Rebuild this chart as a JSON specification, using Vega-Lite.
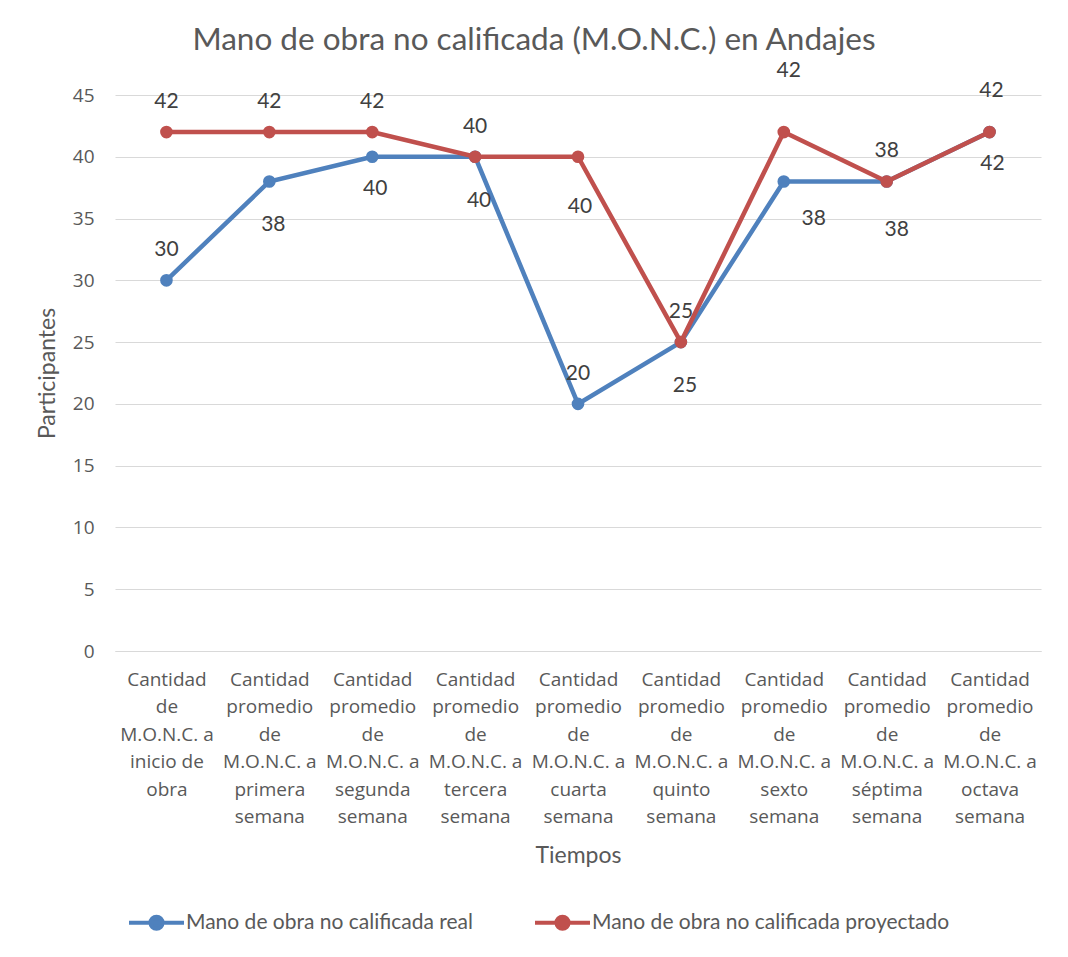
{
  "$schema": "https://vega.github.io/schema/vega-lite/v6.json",
  "width": 926,
  "height": 556,
  "autosize": {"type": "none"},
  "padding": {"left": 115, "top": 95, "right": 27, "bottom": 306},
  "background": "white",
  "title": {
    "text": "Mano de obra no calificada (M.O.N.C.) en Andajes",
    "anchor": "middle",
    "frame": "group",
    "dx": -44,
    "offset": 4,
    "font": "Lato",
    "fontSize": 31.5,
    "fontWeight": "normal",
    "color": "#595959"
  },
  "data": {
    "values": [
      {"orden": 1, "tiempo": "Cantidad|de|M.O.N.C. a|inicio de|obra", "serie": "Mano de obra no calificada real", "valor": 30},
      {"orden": 2, "tiempo": "Cantidad|promedio|de|M.O.N.C. a|primera|semana", "serie": "Mano de obra no calificada real", "valor": 38},
      {"orden": 3, "tiempo": "Cantidad|promedio|de|M.O.N.C. a|segunda|semana", "serie": "Mano de obra no calificada real", "valor": 40},
      {"orden": 4, "tiempo": "Cantidad|promedio|de|M.O.N.C. a|tercera|semana", "serie": "Mano de obra no calificada real", "valor": 40},
      {"orden": 5, "tiempo": "Cantidad|promedio|de|M.O.N.C. a|cuarta|semana", "serie": "Mano de obra no calificada real", "valor": 20},
      {"orden": 6, "tiempo": "Cantidad|promedio|de|M.O.N.C. a|quinto|semana", "serie": "Mano de obra no calificada real", "valor": 25},
      {"orden": 7, "tiempo": "Cantidad|promedio|de|M.O.N.C. a|sexto|semana", "serie": "Mano de obra no calificada real", "valor": 38},
      {"orden": 8, "tiempo": "Cantidad|promedio|de|M.O.N.C. a|séptima|semana", "serie": "Mano de obra no calificada real", "valor": 38},
      {"orden": 9, "tiempo": "Cantidad|promedio|de|M.O.N.C. a|octava|semana", "serie": "Mano de obra no calificada real", "valor": 42},
      {"orden": 1, "tiempo": "Cantidad|de|M.O.N.C. a|inicio de|obra", "serie": "Mano de obra no calificada proyectado", "valor": 42},
      {"orden": 2, "tiempo": "Cantidad|promedio|de|M.O.N.C. a|primera|semana", "serie": "Mano de obra no calificada proyectado", "valor": 42},
      {"orden": 3, "tiempo": "Cantidad|promedio|de|M.O.N.C. a|segunda|semana", "serie": "Mano de obra no calificada proyectado", "valor": 42},
      {"orden": 4, "tiempo": "Cantidad|promedio|de|M.O.N.C. a|tercera|semana", "serie": "Mano de obra no calificada proyectado", "valor": 40},
      {"orden": 5, "tiempo": "Cantidad|promedio|de|M.O.N.C. a|cuarta|semana", "serie": "Mano de obra no calificada proyectado", "valor": 40},
      {"orden": 6, "tiempo": "Cantidad|promedio|de|M.O.N.C. a|quinto|semana", "serie": "Mano de obra no calificada proyectado", "valor": 25},
      {"orden": 7, "tiempo": "Cantidad|promedio|de|M.O.N.C. a|sexto|semana", "serie": "Mano de obra no calificada proyectado", "valor": 42},
      {"orden": 8, "tiempo": "Cantidad|promedio|de|M.O.N.C. a|séptima|semana", "serie": "Mano de obra no calificada proyectado", "valor": 38},
      {"orden": 9, "tiempo": "Cantidad|promedio|de|M.O.N.C. a|octava|semana", "serie": "Mano de obra no calificada proyectado", "valor": 42}
    ]
  },
  "encoding": {
    "x": {
      "field": "tiempo",
      "type": "nominal",
      "sort": {"field": "orden", "op": "min"},
      "title": "Tiempos",
      "axis": {
        "labelAngle": 0,
        "labelExpr": "split(datum.label, '|')",
        "labelBaseline": "top",
        "labelLineHeight": 27.5,
        "labelPadding": 19,
        "labelOverlap": false,
        "labelLimit": 200,
        "labelFont": "Open Sans",
        "labelFontSize": 19,
        "labelColor": "#595959",
        "ticks": false,
        "domainColor": "#d9d9d9",
        "domainWidth": 1,
        "grid": false,
        "titleFont": "Lato",
        "titleFontSize": 23,
        "titleFontWeight": "normal",
        "titleColor": "#595959",
        "titlePadding": 18
      }
    },
    "y": {
      "field": "valor",
      "type": "quantitative",
      "scale": {"domain": [0, 45], "nice": false},
      "title": "Participantes",
      "axis": {
        "values": [0, 5, 10, 15, 20, 25, 30, 35, 40, 45],
        "labelFont": "Open Sans",
        "labelFontSize": 19,
        "labelColor": "#595959",
        "labelPadding": 21,
        "ticks": false,
        "domain": false,
        "grid": true,
        "gridColor": "#d9d9d9",
        "gridWidth": 1,
        "titleFont": "Lato",
        "titleFontSize": 23,
        "titleFontWeight": "normal",
        "titleColor": "#595959",
        "titlePadding": 13
      }
    }
  },
  "layer": [
    {
      "transform": [{"filter": "datum.serie == 'Mano de obra no calificada real'"}],
      "mark": {"type": "line", "strokeWidth": 4.5},
      "encoding": {
        "color": {
          "field": "serie", "type": "nominal",
          "scale": {"domain": ["Mano de obra no calificada real", "Mano de obra no calificada proyectado"], "range": ["#4F81BD", "#C0504D"]},
          "legend": {
            "title": null,
            "orient": "none",
            "legendX": 12,
            "legendY": 798,
            "direction": "horizontal",
            "symbolType": "M-1,0L1,0M0.22,0A0.22,0.22,0,1,1,-0.22,0A0.22,0.22,0,1,1,0.22,0Z",
            "symbolSize": 3025,
            "symbolStrokeWidth": 4,
            "labelFont": "Lato",
            "labelFontSize": 21,
            "labelColor": "#595959",
            "labelOffset": 0,
            "labelLimit": 400,
            "columnPadding": 53,
            "encode": {"symbols": {"update": {"fill": {"scale": "color", "field": "value"}, "stroke": {"scale": "color", "field": "value"}, "fillOpacity": {"value": 1}, "opacity": {"value": 1}}}}
          }
        }
      }
    },
    {
      "transform": [{"filter": "datum.serie == 'Mano de obra no calificada real'"}],
      "mark": {"type": "point", "filled": true, "size": 160, "opacity": 1},
      "encoding": {"color": {"field": "serie", "type": "nominal"}}
    },
    {
      "transform": [{"filter": "datum.serie == 'Mano de obra no calificada proyectado'"}],
      "mark": {"type": "line", "strokeWidth": 4.5},
      "encoding": {"color": {"field": "serie", "type": "nominal"}}
    },
    {
      "transform": [{"filter": "datum.serie == 'Mano de obra no calificada proyectado'"}],
      "mark": {"type": "point", "filled": true, "size": 160, "opacity": 1},
      "encoding": {"color": {"field": "serie", "type": "nominal"}}
    },
    {
      "transform": [{"filter": "(datum.serie == 'Mano de obra no calificada proyectado' && (datum.orden <= 4 || datum.orden == 6 || datum.orden == 8)) || (datum.serie == 'Mano de obra no calificada real' && (datum.orden == 1 || datum.orden == 5))"}],
      "mark": {"type": "text", "dy": -30, "font": "Lato", "fontSize": 21, "color": "#404040"},
      "encoding": {"text": {"field": "valor", "type": "quantitative"}}
    },
    {
      "transform": [{"filter": "datum.serie == 'Mano de obra no calificada proyectado' && datum.orden == 7"}],
      "mark": {"type": "text", "dx": 5, "dy": -61, "font": "Lato", "fontSize": 21, "color": "#404040"},
      "encoding": {"text": {"field": "valor", "type": "quantitative"}}
    },
    {
      "transform": [{"filter": "datum.serie == 'Mano de obra no calificada proyectado' && datum.orden == 9"}],
      "mark": {"type": "text", "dx": 2, "dy": -41, "font": "Lato", "fontSize": 21, "color": "#404040"},
      "encoding": {"text": {"field": "valor", "type": "quantitative"}}
    },
    {
      "transform": [{"filter": "datum.serie == 'Mano de obra no calificada proyectado' && datum.orden == 5"}],
      "mark": {"type": "text", "dx": 2, "dy": 50, "font": "Lato", "fontSize": 21, "color": "#404040"},
      "encoding": {"text": {"field": "valor", "type": "quantitative"}}
    },
    {
      "transform": [{"filter": "datum.serie == 'Mano de obra no calificada real' && (datum.orden == 2 || datum.orden == 4 || datum.orden == 6)"}],
      "mark": {"type": "text", "dx": 4, "dy": 44, "font": "Lato", "fontSize": 21, "color": "#404040"},
      "encoding": {"text": {"field": "valor", "type": "quantitative"}}
    },
    {
      "transform": [{"filter": "datum.serie == 'Mano de obra no calificada real' && (datum.orden == 3 || datum.orden == 9)"}],
      "mark": {"type": "text", "dx": 3, "dy": 32, "font": "Lato", "fontSize": 21, "color": "#404040"},
      "encoding": {"text": {"field": "valor", "type": "quantitative"}}
    },
    {
      "transform": [{"filter": "datum.serie == 'Mano de obra no calificada real' && datum.orden == 7"}],
      "mark": {"type": "text", "dx": 30, "dy": 38, "font": "Lato", "fontSize": 21, "color": "#404040"},
      "encoding": {"text": {"field": "valor", "type": "quantitative"}}
    },
    {
      "transform": [{"filter": "datum.serie == 'Mano de obra no calificada real' && datum.orden == 8"}],
      "mark": {"type": "text", "dx": 10, "dy": 49, "font": "Lato", "fontSize": 21, "color": "#404040"},
      "encoding": {"text": {"field": "valor", "type": "quantitative"}}
    }
  ],
  "config": {
    "view": {"stroke": null}
  }
}
